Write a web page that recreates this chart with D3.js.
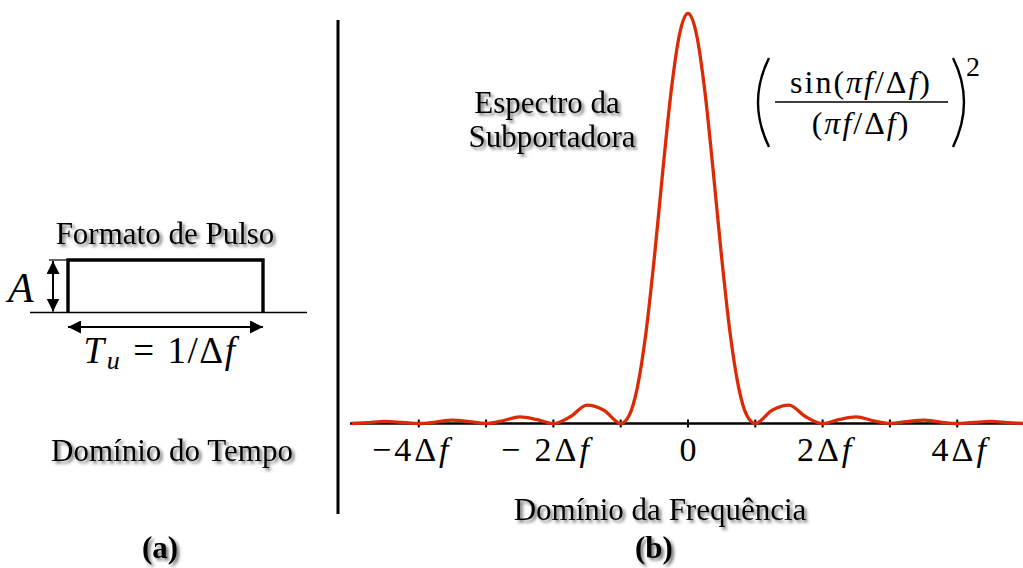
<!DOCTYPE html>
<html>
<head>
<meta charset="utf-8">
<script src="https://cdn.jsdelivr.net/npm/d3@7"></script>
<style>
  body { margin: 0; background: #fff; }
  svg { display: block; font-family: "Liberation Serif", "Times New Roman", serif; }
</style>
</head>
<body>
<svg id="chart" width="1023" height="568"></svg>
<script>

// spectrum of one subcarrier (f in units of delta f)
var freqs = [-5, -4.75, -4.5, -4.25, -4, -3.75, -3.5, -3.25, -3, -2.75, -2.5, -2.25, -2,
	-1.75, -1.5, -1.25, -1, -0.875, -0.75, -0.625, -0.5, -0.375, -0.25, -0.125, 0,
	0.125, 0.25, 0.375, 0.5, 0.625, 0.75, 0.875, 1, 1.25, 1.5, 1.75, 2,
	2.25, 2.5, 2.75, 3, 3.25, 3.5, 3.75, 4, 4.25, 4.5, 4.75, 5];
var power = [0, 0.0022, 0.005, 0.0028, 0, 0.0036, 0.0083, 0.0048, 0, 0.0067, 0.0162, 0.01, 0,
	0.0165, 0.045, 0.0324, 0, 0.0194, 0.09, 0.221, 0.405, 0.615, 0.811, 0.95, 1,
	0.95, 0.811, 0.615, 0.405, 0.221, 0.09, 0.0194, 0, 0.0324, 0.045, 0.0165, 0,
	0.01, 0.0162, 0.0067, 0, 0.0048, 0.0083, 0.0036, 0, 0.0028, 0.005, 0.0022, 0];

var tickValues = [-4, -3, -2, -1, 0, 1, 2, 3, 4];
var tickLabels = { "-4": "\u22124\u0394", "-2": "\u2212 2\u0394", "0": "0", "2": "2\u0394", "4": "4\u0394" };

// pulse shape: time in units of Tu, amplitude in units of A
var pulseT = [0, 0, 1, 1];
var pulseA = [0, 1, 1, 0];

var svg = d3.select("#chart");

var defs = svg.append("defs");
var shadow = defs.append("filter")
		.attr("id", "shadow")
		.attr("x", "-10%").attr("y", "-30%")
		.attr("width", "130%").attr("height", "170%");
shadow.append("feDropShadow")
		.attr("dx", 2.5).attr("dy", 2.5)
		.attr("stdDeviation", 1.5)
		.attr("flood-color", "#444")
		.attr("flood-opacity", 0.75);

var marker = defs.append("marker")
		.attr("id", "head")
		.attr("viewBox", "0 0 10 10")
		.attr("refX", 10).attr("refY", 5)
		.attr("markerWidth", 13).attr("markerHeight", 13)
		.attr("markerUnits", "userSpaceOnUse")
		.attr("orient", "auto-start-reverse");
marker.append("path")
		.attr("d", "M0,0 L10,5 L0,10 z")
		.attr("fill", "#000");

function label(x, y, str, size, extra) {
	var t = svg.append("text")
			.attr("x", x)
			.attr("y", y)
			.attr("text-anchor", "middle")
			.attr("font-size", size)
			.attr("filter", "url(#shadow)")
			.text(str);
	if (extra) t.attr("font-weight", extra);
	return t;
}

// ---------------- (a) time domain ----------------

var t = d3.scaleLinear().domain([0, 1]).range([68, 263]);
var a = d3.scaleLinear().domain([0, 1]).range([312.5, 260]);

// baseline
svg.append("line")
		.attr("x1", 30).attr("x2", 307)
		.attr("y1", a(0)).attr("y2", a(0))
		.attr("stroke", "#000")
		.attr("stroke-width", 1.6);

var pulseLine = d3.line()
		.x(function(d, i) { return t(pulseT[i]); })
		.y(function(d, i) { return a(pulseA[i]); });

svg.append("path")
		.attr("d", pulseLine(pulseT))
		.attr("fill", "none")
		.attr("stroke", "#000")
		.attr("stroke-width", 3.4)
		.attr("stroke-linejoin", "miter");

// amplitude arrow
svg.append("line")
		.attr("x1", 49).attr("x2", t(0))
		.attr("y1", a(1)).attr("y2", a(1))
		.attr("stroke", "#000")
		.attr("stroke-width", 1.2);
svg.append("line")
		.attr("x1", 53).attr("x2", 53)
		.attr("y1", a(1) + 1).attr("y2", a(0) - 1)
		.attr("stroke", "#000")
		.attr("stroke-width", 2)
		.attr("marker-start", "url(#head)")
		.attr("marker-end", "url(#head)");

// duration arrow
svg.append("line")
		.attr("x1", t(0)).attr("x2", t(1))
		.attr("y1", 327).attr("y2", 327)
		.attr("stroke", "#000")
		.attr("stroke-width", 2)
		.attr("marker-start", "url(#head)")
		.attr("marker-end", "url(#head)");

svg.append("text")
		.attr("x", 8).attr("y", 302)
		.attr("font-size", 42)
		.attr("font-style", "italic")
		.text("A");

var tu = svg.append("text")
		.attr("x", 160).attr("y", 363)
		.attr("text-anchor", "middle")
		.attr("font-size", 37)
		.attr("letter-spacing", 1.5);
tu.append("tspan").attr("font-style", "italic").text("T");
tu.append("tspan").attr("font-style", "italic").attr("font-size", 26).attr("dx", 1).attr("dy", 6).text("u");
tu.append("tspan").attr("dx", 12).attr("dy", -6).text("=");
tu.append("tspan").attr("dx", 12).text("1/\u0394");
tu.append("tspan").attr("font-style", "italic").text("f");

label(165, 244, "Formato de Pulso", 31);
label(172, 461, "Dom\u00ednio do Tempo", 31);
label(160, 558, "(a)", 31, "bold");

// divider
svg.append("line")
		.attr("x1", 338).attr("x2", 338)
		.attr("y1", 20).attr("y2", 514)
		.attr("stroke", "#000")
		.attr("stroke-width", 3);

// ---------------- (b) frequency domain ----------------

var x = d3.scaleLinear().domain([-5, 5]).range([351.5, 1024.5]);
var y = d3.scaleLinear().domain([0, 1]).range([423.5, 13.5]);

var axis = svg.append("g").attr("transform", "translate(0," + y(0) + ")");
axis.append("line")
		.attr("x1", 350).attr("x2", 1023)
		.attr("stroke", "#000")
		.attr("stroke-width", 2.6);
axis.selectAll(".tick")
		.data(tickValues)
		.enter().append("line")
		.attr("class", "tick")
		.attr("x1", x).attr("x2", x)
		.attr("y1", -4).attr("y2", 4)
		.attr("stroke", "#000")
		.attr("stroke-width", 2);

var tl = axis.selectAll(".tlabel")
		.data(tickValues.filter(function(d) { return tickLabels[d] !== undefined; }))
		.enter().append("text")
		.attr("class", "tlabel")
		.attr("x", function(d) { return x(d) - (d < 0 ? 7 : 0) + (d > 0 ? 3 : 0); })
		.attr("y", 37)
		.attr("text-anchor", "middle")
		.attr("font-size", 34)
		.attr("letter-spacing", function(d) { return d === 0 ? 0 : 3; });
tl.append("tspan").text(function(d) { return tickLabels[d]; });
tl.filter(function(d) { return d !== 0; })
		.append("tspan").attr("font-style", "italic").text("f");

var curve = d3.line()
		.x(function(d, i) { return x(freqs[i]); })
		.y(function(d, i) { return y(power[i]); })
		.curve(d3.curveMonotoneX);

svg.append("path")
		.attr("d", curve(freqs))
		.attr("fill", "none")
		.attr("stroke", "#dc2a04")
		.attr("stroke-width", 3.3);

label(547, 113, "Espectro da", 31);
label(552, 147, "Subportadora", 31);
label(660, 520, "Dom\u00ednio da Frequ\u00eancia", 31);
label(654, 558, "(b)", 31, "bold");

// formula
var fml = svg.append("g");
fml.append("path")
		.attr("d", "M769,58 Q747,102 769,147")
		.attr("fill", "none").attr("stroke", "#000").attr("stroke-width", 2.4);
fml.append("path")
		.attr("d", "M953,58 Q975,102 953,147")
		.attr("fill", "none").attr("stroke", "#000").attr("stroke-width", 2.4);
fml.append("line")
		.attr("x1", 775).attr("x2", 948)
		.attr("y1", 102).attr("y2", 102)
		.attr("stroke", "#000").attr("stroke-width", 1.6);

function fraction(str, yy) {
	var txt = fml.append("text")
			.attr("x", 861).attr("y", yy)
			.attr("text-anchor", "middle")
			.attr("font-size", 32)
			.attr("letter-spacing", 2);
	if (str) txt.append("tspan").text(str);
	txt.append("tspan").text("(");
	txt.append("tspan").attr("font-style", "italic").text("\u03c0f");
	txt.append("tspan").text("/\u0394");
	txt.append("tspan").attr("font-style", "italic").text("f");
	txt.append("tspan").text(")");
}
fraction("sin", 93);
fraction("", 134);

fml.append("text")
		.attr("x", 966).attr("y", 76)
		.attr("font-size", 28)
		.text("2");

</script>
</body>
</html>
